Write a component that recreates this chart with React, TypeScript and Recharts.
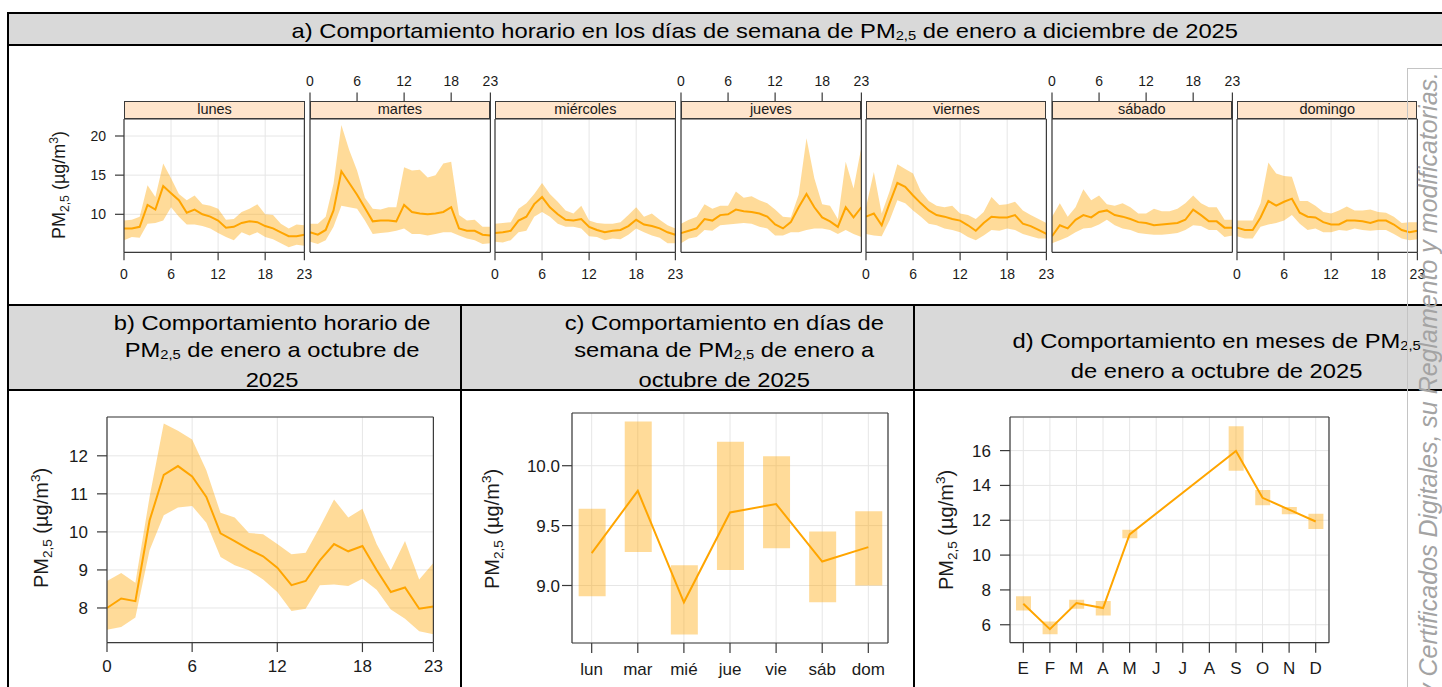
import React from "react";
import { Area, Bar, CartesianGrid, ComposedChart, Line, XAxis, YAxis } from "recharts";

// ---- a) hourly profile per weekday (mean and band) ----
const HOURS = [0, 1, 2, 3, 4, 5, 6, 7, 8, 9, 10, 11, 12, 13, 14, 15, 16, 17, 18, 19, 20, 21, 22, 23];
const HOUR_TICKS = [0, 6, 12, 18, 23];
const DAY_NAMES = ["lunes", "martes", "miércoles", "jueves", "viernes", "sábado", "domingo"];

const LUNES_MEAN = [8.2, 8.2, 8.4, 11.2, 10.6, 13.6, 12.7, 11.8, 10.2, 10.6, 10.0, 9.7, 9.2, 8.3, 8.4, 8.9, 9.1, 9.0, 8.5, 8.2, 7.7, 7.2, 7.2, 7.4];
const LUNES_HI = [9.2, 9.3, 9.7, 13.7, 12.2, 16.5, 14.6, 12.6, 11.8, 12.4, 11.3, 11.1, 10.7, 9.3, 9.4, 10.3, 10.7, 11.3, 10.0, 9.9, 8.8, 8.2, 8.7, 8.6];
const LUNES_LO = [6.7, 7.1, 7.0, 8.8, 8.9, 9.2, 10.9, 9.7, 8.7, 8.7, 8.5, 8.2, 7.6, 7.1, 6.7, 7.7, 7.3, 7.7, 7.1, 6.8, 6.3, 5.8, 6.1, 6.0];

const MARTES_MEAN = [7.7, 7.4, 8.0, 10.5, 15.5, 14.0, 12.5, 10.8, 9.1, 9.2, 9.2, 9.1, 11.2, 10.3, 10.1, 10.0, 10.1, 10.3, 10.9, 8.2, 7.9, 7.9, 7.4, 7.3];
const MARTES_HI = [8.8, 8.8, 9.7, 13.9, 21.4, 18.2, 15.6, 12.1, 10.7, 10.6, 10.9, 10.9, 16.0, 15.6, 15.7, 14.7, 15.0, 16.5, 16.7, 9.9, 9.2, 9.3, 8.4, 8.4];
const MARTES_LO = [6.5, 6.2, 6.7, 8.4, 11.1, 10.9, 10.7, 9.2, 7.5, 7.6, 7.7, 7.9, 8.2, 7.5, 7.5, 7.3, 7.5, 7.7, 7.7, 7.3, 6.9, 6.7, 6.2, 6.3];

const MIERCOLES_MEAN = [7.6, 7.7, 7.9, 9.2, 9.7, 11.3, 12.2, 10.9, 10.0, 9.3, 9.2, 9.4, 8.4, 8.0, 7.7, 7.9, 8.0, 8.5, 9.3, 8.7, 8.5, 8.2, 7.7, 7.4];
const MIERCOLES_HI = [8.8, 8.9, 9.0, 10.7, 11.4, 12.6, 14.0, 12.6, 11.6, 10.5, 10.1, 11.1, 9.2, 8.9, 8.8, 8.8, 9.0, 9.9, 10.9, 9.7, 10.1, 9.3, 8.6, 8.2];
const MIERCOLES_LO = [6.5, 6.4, 6.7, 7.7, 7.9, 9.7, 10.3, 9.7, 8.8, 8.4, 8.4, 8.2, 7.2, 7.1, 6.7, 6.9, 6.8, 7.4, 8.2, 7.7, 7.3, 7.0, 6.3, 6.3];

const JUEVES_MEAN = [7.6, 7.9, 8.2, 9.4, 9.2, 9.9, 10.0, 10.6, 10.4, 10.3, 10.1, 9.7, 8.7, 8.2, 9.0, 10.9, 12.6, 10.9, 9.6, 9.1, 8.4, 10.9, 9.6, 10.9];
const JUEVES_HI = [8.8, 9.3, 9.7, 11.3, 10.7, 11.1, 11.1, 12.9, 12.1, 12.3, 11.8, 11.4, 10.6, 9.7, 9.6, 12.5, 19.7, 14.6, 11.3, 11.1, 9.4, 16.7, 13.3, 18.6];
const JUEVES_LO = [6.3, 6.9, 7.1, 8.0, 7.9, 8.6, 8.7, 8.8, 8.9, 8.8, 8.4, 8.2, 7.3, 7.3, 7.7, 7.7, 8.0, 8.2, 8.2, 8.0, 7.5, 8.0, 7.5, 7.1];

const VIERNES_MEAN = [9.7, 10.1, 8.6, 11.4, 14.0, 13.5, 12.4, 11.4, 10.5, 9.9, 9.7, 9.4, 9.2, 8.6, 7.9, 8.9, 9.7, 9.6, 9.6, 9.9, 8.8, 8.5, 8.0, 7.5];
const VIERNES_HI = [10.9, 15.4, 10.1, 12.9, 16.4, 15.8, 15.2, 12.9, 11.7, 11.1, 10.9, 11.1, 10.1, 9.9, 9.4, 10.3, 12.2, 11.2, 11.3, 11.6, 10.5, 9.9, 9.4, 8.9];
const VIERNES_LO = [7.5, 7.3, 7.2, 9.2, 11.8, 11.4, 10.5, 9.7, 8.8, 8.6, 8.2, 8.0, 7.7, 7.1, 6.7, 7.3, 8.0, 7.9, 8.2, 8.0, 7.5, 7.2, 6.9, 6.9];

const SABADO_MEAN = [7.2, 8.6, 8.2, 9.3, 9.9, 9.6, 10.3, 10.5, 9.9, 9.7, 9.4, 9.0, 8.9, 8.6, 8.7, 8.8, 8.9, 9.3, 10.6, 9.9, 9.1, 9.1, 8.3, 8.3];
const SABADO_HI = [9.7, 11.4, 9.7, 10.9, 13.2, 11.8, 12.4, 11.3, 11.1, 11.4, 10.9, 10.1, 10.1, 10.7, 10.4, 10.4, 10.7, 11.4, 12.4, 11.4, 10.9, 10.9, 9.3, 9.3];
const SABADO_LO = [6.3, 6.7, 7.1, 7.7, 8.2, 8.3, 8.7, 9.3, 8.6, 8.2, 8.0, 7.6, 7.5, 7.4, 7.4, 7.5, 7.6, 8.0, 8.6, 8.5, 8.0, 8.0, 7.1, 7.3];

const DOMINGO_MEAN = [8.3, 8.0, 8.0, 9.6, 11.7, 11.1, 11.6, 12.0, 10.2, 9.7, 9.6, 9.0, 8.7, 8.7, 9.2, 9.2, 9.1, 8.9, 9.2, 9.2, 8.7, 8.0, 7.7, 7.9];
const DOMINGO_HI = [9.2, 9.2, 9.2, 11.4, 16.6, 15.2, 14.9, 14.8, 11.7, 11.7, 11.1, 10.3, 10.1, 10.5, 11.0, 10.5, 10.5, 10.6, 10.3, 10.2, 9.7, 8.9, 9.0, 9.0];
const DOMINGO_LO = [7.2, 6.9, 6.9, 8.4, 8.7, 8.9, 9.2, 9.9, 8.8, 8.0, 8.2, 7.7, 7.7, 8.0, 7.9, 8.2, 8.0, 7.9, 8.0, 8.0, 7.5, 6.9, 6.7, 6.8];

const DAY_MEANS = [LUNES_MEAN, MARTES_MEAN, MIERCOLES_MEAN, JUEVES_MEAN, VIERNES_MEAN, SABADO_MEAN, DOMINGO_MEAN];
const DAY_HIS = [LUNES_HI, MARTES_HI, MIERCOLES_HI, JUEVES_HI, VIERNES_HI, SABADO_HI, DOMINGO_HI];
const DAY_LOS = [LUNES_LO, MARTES_LO, MIERCOLES_LO, JUEVES_LO, VIERNES_LO, SABADO_LO, DOMINGO_LO];

// ---- b) hourly profile ----
const HOUR_MEAN = [8.0, 8.25, 8.18, 10.3, 11.5, 11.73, 11.46, 10.92, 9.96, 9.76, 9.54, 9.36, 9.06, 8.6, 8.71, 9.25, 9.68, 9.49, 9.63, 9.0, 8.42, 8.54, 7.98, 8.04];
const HOUR_HI = [8.71, 8.92, 8.66, 10.92, 12.85, 12.66, 12.43, 11.62, 10.5, 10.38, 9.97, 9.94, 9.68, 9.41, 9.45, 10.13, 10.85, 10.38, 10.61, 9.68, 8.99, 9.76, 8.75, 9.18];
const HOUR_LO = [7.43, 7.5, 7.75, 9.52, 10.44, 10.64, 10.68, 10.24, 9.34, 9.12, 8.99, 8.75, 8.42, 7.92, 7.98, 8.6, 8.62, 8.58, 8.77, 8.48, 7.96, 7.72, 7.39, 7.31];

// ---- c) weekday ----
const WEEKDAYS = ["lun", "mar", "mié", "jue", "vie", "sáb", "dom"];
const WEEKDAY_MEAN = [9.27, 9.79, 8.86, 9.61, 9.68, 9.2, 9.32];
const WEEKDAY_HI = [9.64, 10.37, 9.17, 10.2, 10.08, 9.45, 9.62];
const WEEKDAY_LO = [8.91, 9.28, 8.59, 9.13, 9.31, 8.86, 9.0];

// ---- d) months ----
const MONTHS = ["E", "F", "M", "A", "M", "J", "J", "A", "S", "O", "N", "D"];
const MONTH_MEAN = [7.21, 5.75, 7.25, 6.96, 11.19, null, null, null, 15.98, 13.29, 12.61, 11.93];
const MONTH_HI = [7.64, 6.19, 7.44, 7.36, 11.46, null, null, null, 17.4, 13.74, 12.76, 12.37];
const MONTH_LO = [6.82, 5.45, 6.92, 6.53, 10.97, null, null, null, 14.85, 12.86, 12.34, 11.5];

const ORANGE = "#ffa500";
const AXIS = "#3a3a3a";
const GRID = "#e6e6e6";
const TEXT = "#1a1a1a";
const HEADER_BG = "#d9d9d9";
const FONT = "'Liberation Sans', Arial, Helvetica, sans-serif";

const axisStroke = { stroke: AXIS, strokeWidth: 1.2 };

function YTitle({ cx, cy, size }: { cx: number; cy: number; size: number }) {
  return (
    <div
      style={{
        position: "absolute",
        left: cx,
        top: cy,
        transform: "translate(-50%, -50%) rotate(-90deg)",
        whiteSpace: "nowrap",
        fontSize: size,
        lineHeight: 1,
        color: TEXT,
      }}
    >
      PM<span style={{ fontSize: "0.68em", position: "relative", top: "0.3em" }}>2,5</span> (µg/m
      <span style={{ fontSize: "0.68em", position: "relative", top: "-0.6em" }}>3</span>)
    </div>
  );
}

function Sub25() {
  return <span style={{ fontSize: "0.62em", position: "relative", top: "0.22em" }}>2,5</span>;
}

function HeaderText({ cx, top, children }: { cx: number; top: number; children: React.ReactNode }) {
  return (
    <div
      style={{
        position: "absolute",
        left: cx - 700,
        top,
        width: 1400,
        textAlign: "center",
        fontSize: 21,
        lineHeight: "27px",
        whiteSpace: "nowrap",
        color: "#000",
      }}
    >
      <div style={{ display: "inline-block", transform: "scaleX(1.13)" }}>{children}</div>
    </div>
  );
}

// top panel geometry
const PANEL_LEFT0 = 124.3;
const PANEL_STEP = 185.45;
const PANEL_W = 180.4;
const STRIP_TOP = 101.3;
const PLOT_TOP = 118.7;
const PLOT_H = 133.3;

function DayPanel({ idx }: { idx: number }) {
  const left = PANEL_LEFT0 + idx * PANEL_STEP;
  const mean = DAY_MEANS[idx];
  const hi = DAY_HIS[idx];
  const lo = DAY_LOS[idx];
  const data = HOURS.map((h, i) => ({ hour: h, mean: mean[i], band: [lo[i], hi[i]] }));
  const labelsTop = idx % 2 === 1;
  const isFirst = idx === 0;
  const isLast = idx === 6;
  const tickFont = { fontSize: 14, fill: TEXT };

  return (
    <>
      <div style={{ position: "absolute", left: left - 40, top: PLOT_TOP - 80 }}>
        <ComposedChart
          width={PANEL_W + 80}
          height={PLOT_H + 120}
          data={data}
          margin={{ top: 40, right: 20, bottom: 10, left: 10 }}
        >
          <CartesianGrid stroke={GRID} />
          <XAxis
            dataKey="hour"
            type="number"
            domain={[0, 23]}
            ticks={HOUR_TICKS}
            interval={0}
            allowDataOverflow
            height={30}
            axisLine={axisStroke}
            tickLine={axisStroke}
            tickSize={8}
            tickMargin={9}
            tick={labelsTop ? false : tickFont}
          />
          <XAxis
            xAxisId="top"
            orientation="top"
            dataKey="hour"
            type="number"
            domain={[0, 23]}
            ticks={HOUR_TICKS}
            interval={0}
            allowDataOverflow
            height={40}
            axisLine={axisStroke}
            tickLine={axisStroke}
            tickSize={26.4}
            tickMargin={7}
            tick={labelsTop ? tickFont : false}
          />
          <YAxis
            type="number"
            domain={[5.15, 22.17]}
            ticks={[10, 15, 20]}
            interval={0}
            allowDataOverflow
            width={30}
            axisLine={axisStroke}
            tickLine={isFirst ? axisStroke : false}
            tickSize={9}
            tickMargin={9}
            tick={isFirst ? tickFont : false}
          />
          <YAxis
            yAxisId="right"
            orientation="right"
            type="number"
            domain={[5.15, 22.17]}
            ticks={[10, 15, 20]}
            interval={0}
            allowDataOverflow
            width={20}
            axisLine={axisStroke}
            tickLine={isLast ? axisStroke : false}
            tickSize={5}
            tick={false}
          />
          <Area dataKey="band" type="linear" stroke="none" fill={ORANGE} fillOpacity={0.4} isAnimationActive={false} />
          <Line dataKey="mean" type="linear" stroke={ORANGE} strokeWidth={2} dot={false} isAnimationActive={false} />
        </ComposedChart>
      </div>
      <div
        style={{
          position: "absolute",
          left,
          top: STRIP_TOP,
          width: PANEL_W,
          height: PLOT_TOP - STRIP_TOP + 0.6,
          boxSizing: "border-box",
          border: `1.2px solid ${AXIS}`,
          background: "#ffe5cc",
          fontSize: 14.5,
          lineHeight: `${PLOT_TOP - STRIP_TOP - 2}px`,
          textAlign: "center",
          color: TEXT,
        }}
      >
        {DAY_NAMES[idx]}
      </div>
    </>
  );
}

const bigTick = { fontSize: 17, fill: TEXT };

function HourlyChart() {
  const data = HOURS.map((h, i) => ({ hour: h, mean: HOUR_MEAN[i], band: [HOUR_LO[i], HOUR_HI[i]] }));
  const plot = { x: 107.3, y: 416.7, w: 326.4, h: 225.6 };
  return (
    <div style={{ position: "absolute", left: plot.x - 80, top: plot.y - 30 }}>
      <ComposedChart width={plot.w + 120} height={plot.h + 80} data={data} margin={{ top: 10, right: 20, bottom: 10, left: 10 }}>
        <CartesianGrid stroke={GRID} />
        <XAxis dataKey="hour" type="number" domain={[0, 23]} ticks={HOUR_TICKS} interval={0} allowDataOverflow height={40}
          axisLine={axisStroke} tickLine={axisStroke} tickSize={9.5} tickMargin={8} tick={bigTick} />
        <XAxis xAxisId="top" orientation="top" dataKey="hour" type="number" domain={[0, 23]} ticks={HOUR_TICKS} interval={0}
          allowDataOverflow height={20} axisLine={axisStroke} tickLine={axisStroke} tickSize={10} tick={false} />
        <YAxis type="number" domain={[7.09, 13.02]} ticks={[8, 9, 10, 11, 12]} interval={0} allowDataOverflow width={70}
          axisLine={axisStroke} tickLine={axisStroke} tickSize={10} tickMargin={9} tick={bigTick} />
        <YAxis yAxisId="right" orientation="right" type="number" domain={[7.09, 13.02]} ticks={[8, 9, 10, 11, 12]} interval={0}
          allowDataOverflow width={20} axisLine={axisStroke} tickLine={axisStroke} tickSize={10} tick={false} />
        <Area dataKey="band" type="linear" stroke="none" fill={ORANGE} fillOpacity={0.4} isAnimationActive={false} />
        <Line dataKey="mean" type="linear" stroke={ORANGE} strokeWidth={2} dot={false} isAnimationActive={false} />
      </ComposedChart>
    </div>
  );
}

function WeekdayChart() {
  const data = WEEKDAYS.map((d, i) => ({ pos: i + 1, mean: WEEKDAY_MEAN[i], band: [WEEKDAY_LO[i], WEEKDAY_HI[i]] }));
  const ticks = WEEKDAYS.map((_, i) => i + 1);
  const plot = { x: 572.3, y: 413.3, w: 316, h: 230 };
  return (
    <div style={{ position: "absolute", left: plot.x - 80, top: plot.y - 30 }}>
      <ComposedChart width={plot.w + 120} height={plot.h + 80} data={data} margin={{ top: 10, right: 20, bottom: 10, left: 10 }}>
        <CartesianGrid stroke={GRID} />
        <XAxis dataKey="pos" type="number" domain={[0.573, 7.427]} ticks={ticks} interval={0} allowDataOverflow height={40}
          axisLine={axisStroke} tickLine={axisStroke} tickSize={10} tickMargin={10} tick={bigTick}
          tickFormatter={(v: number) => WEEKDAYS[v - 1]} />
        <XAxis xAxisId="top" orientation="top" dataKey="pos" type="number" domain={[0.573, 7.427]} ticks={ticks} interval={0}
          allowDataOverflow height={20} axisLine={axisStroke} tickLine={axisStroke} tickSize={10} tick={false} />
        <YAxis type="number" domain={[8.52, 10.44]} ticks={[9, 9.5, 10]} interval={0} allowDataOverflow width={70}
          axisLine={axisStroke} tickLine={axisStroke} tickSize={10} tickMargin={2} tick={bigTick}
          tickFormatter={(v: number) => v.toFixed(1)} />
        <YAxis yAxisId="right" orientation="right" type="number" domain={[8.52, 10.44]} ticks={[9, 9.5, 10]} interval={0}
          allowDataOverflow width={20} axisLine={axisStroke} tickLine={axisStroke} tickSize={10} tick={false} />
        <Bar dataKey="band" barSize={27} fill={ORANGE} fillOpacity={0.4} isAnimationActive={false} />
        <Line dataKey="mean" type="linear" stroke={ORANGE} strokeWidth={2} dot={false} isAnimationActive={false} />
      </ComposedChart>
    </div>
  );
}

function MonthChart() {
  const data = MONTHS.map((m, i) => ({
    pos: i + 1,
    mean: MONTH_MEAN[i],
    band: MONTH_LO[i] === null ? null : [MONTH_LO[i], MONTH_HI[i]],
  }));
  const ticks = MONTHS.map((_, i) => i + 1);
  const plot = { x: 1010, y: 417.3, w: 319, h: 225.7 };
  return (
    <div style={{ position: "absolute", left: plot.x - 80, top: plot.y - 30 }}>
      <ComposedChart width={plot.w + 120} height={plot.h + 80} data={data} margin={{ top: 10, right: 20, bottom: 10, left: 10 }}>
        <CartesianGrid stroke={GRID} />
        <XAxis dataKey="pos" type="number" domain={[0.5, 12.5]} ticks={ticks} interval={0} allowDataOverflow height={40}
          axisLine={axisStroke} tickLine={axisStroke} tickSize={10} tickMargin={9} tick={bigTick}
          tickFormatter={(v: number) => MONTHS[v - 1]} />
        <XAxis xAxisId="top" orientation="top" dataKey="pos" type="number" domain={[0.5, 12.5]} ticks={ticks} interval={0}
          allowDataOverflow height={20} axisLine={axisStroke} tickLine={axisStroke} tickSize={10} tick={false} />
        <YAxis type="number" domain={[4.97, 17.93]} ticks={[6, 8, 10, 12, 14, 16]} interval={0} allowDataOverflow width={70}
          axisLine={axisStroke} tickLine={axisStroke} tickSize={10} tickMargin={9} tick={bigTick} />
        <YAxis yAxisId="right" orientation="right" type="number" domain={[4.97, 17.93]} ticks={[6, 8, 10, 12, 14, 16]} interval={0}
          allowDataOverflow width={20} axisLine={axisStroke} tickLine={axisStroke} tickSize={10} tick={false} />
        <Bar dataKey="band" barSize={15} fill={ORANGE} fillOpacity={0.4} isAnimationActive={false} />
        <Line dataKey="mean" type="linear" stroke={ORANGE} strokeWidth={2} dot={false} connectNulls isAnimationActive={false} />
      </ComposedChart>
    </div>
  );
}

function Rule({ left, top, width, height, color = "#000" }: { left: number; top: number; width: number; height: number; color?: string }) {
  return <div style={{ position: "absolute", left, top, width, height, background: color }} />;
}

export default function App() {
  return (
    <div
      style={{
        position: "fixed",
        left: 0,
        top: 0,
        width: 1442,
        height: 687,
        overflow: "hidden",
        background: "#fff",
        fontFamily: FONT,
      }}
    >
      {/* table shading and rules */}
      <Rule left={8} top={13} width={1434} height={32} color={HEADER_BG} />
      <Rule left={8} top={306} width={1434} height={83} color={HEADER_BG} />
      <Rule left={7} top={11.5} width={1435} height={2} />
      <Rule left={7} top={44.3} width={1435} height={2} />
      <Rule left={7} top={304} width={1435} height={2} />
      <Rule left={7} top={388.5} width={1435} height={2} />
      <Rule left={7} top={11.5} width={2} height={676} />
      <Rule left={460} top={304} width={2} height={383} />
      <Rule left={913} top={304} width={2} height={383} />

      <HeaderText cx={765} top={16.5}>
        a) Comportamiento horario en los días de semana de PM<Sub25 /> de enero a diciembre de 2025
      </HeaderText>
      <HeaderText cx={272} top={308.5}>
        b) Comportamiento horario de
        <br />
        PM<Sub25 /> de enero a octubre de
        <br />
        2025
      </HeaderText>
      <HeaderText cx={724} top={308.5}>
        c) Comportamiento en días de
        <br />
        semana de PM<Sub25 /> de enero a
        <br />
        octubre de 2025
      </HeaderText>
      <HeaderText cx={1217} top={326.5}>
        d) Comportamiento en meses de PM<Sub25 />
        <br />
        de enero a octubre de 2025
      </HeaderText>

      {/* a) lattice of weekdays */}
      {DAY_NAMES.map((_, i) => (
        <DayPanel key={i} idx={i} />
      ))}
      <YTitle cx={59} cy={185} size={18} />

      {/* b, c, d */}
      <HourlyChart />
      <YTitle cx={41} cy={528} size={20} />
      <WeekdayChart />
      <YTitle cx={492} cy={529} size={20} />
      <MonthChart />
      <YTitle cx={946} cy={530} size={20} />

      {/* side watermark */}
      <div
        style={{
          position: "absolute",
          left: 1406.5,
          top: 68,
          width: 40,
          height: 640,
          borderLeft: "1px solid #c4c4c4",
          borderTop: "1px solid #c4c4c4",
        }}
      />
      <div
        style={{
          position: "absolute",
          left: 1415,
          top: 772,
          width: 700,
          transform: "rotate(-90deg)",
          transformOrigin: "0 0",
          whiteSpace: "nowrap",
          textAlign: "right",
          fontSize: 25,
          lineHeight: "26px",
          fontStyle: "italic",
          color: "#a3a3a3",
        }}
      >
        y Certificados Digitales, su Reglamento y modificatorias.
      </div>
    </div>
  );
}
